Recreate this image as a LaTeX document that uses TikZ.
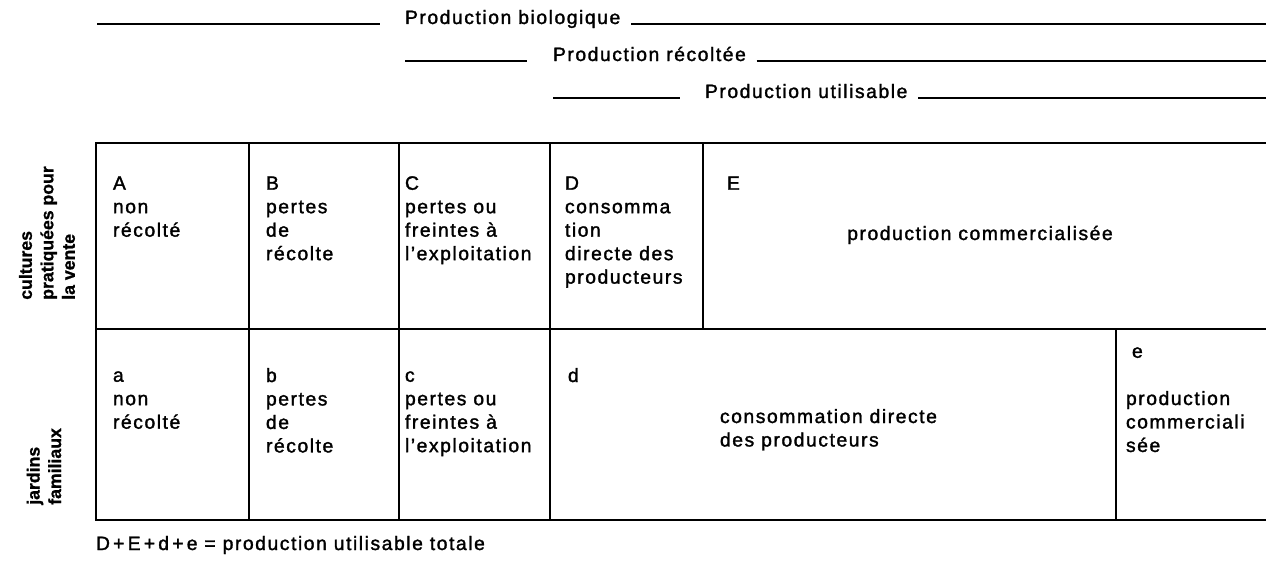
\documentclass[tikz,border=0pt]{standalone}
\usepackage{fontspec}
\setmainfont{Liberation Sans}[LetterSpace=8,FakeBold=1.6]
\newfontfamily\sidefont{Liberation Sans}[FakeBold=1.0]
\newcommand{\capstrut}{\rule{0pt}{10.3pt}}
\begin{document}
\begin{tikzpicture}[x=0.75pt,y=-0.75pt,
  tbl/.style={line width=1.8pt, line join=miter},
  hdr/.style={line width=1.5pt},
  txt/.style={font=\fontsize{14.5}{17.6}\selectfont, inner sep=0pt, outer sep=0pt},
  cell/.style={txt, anchor=north west, align=left},
  side/.style={font=\sidefont\bfseries\fontsize{13.25}{16.1}\selectfont, inner sep=0pt, align=left, rotate=90, anchor=west}]
\useasboundingbox (0,0) rectangle (1266,560);

% header lines
\coordinate (h1a) at (97,24);  \coordinate (h1b) at (380,24);  \coordinate (h1c) at (1266,24);
\coordinate (h2a) at (405,61); \coordinate (h2b) at (527,61);  \coordinate (h2c) at (1266,61);
\coordinate (h3a) at (553,98); \coordinate (h3b) at (680,98);  \coordinate (h3c) at (1266,98);
\node[txt, anchor=base west] (pb) at (405,24) {Production biologique};
\node[txt, anchor=base west] (pr) at (553,61) {Production récoltée};
\node[txt, anchor=base west] (pu) at (705,98) {Production utilisable};
\draw[hdr] (h1a) -- (h1b);
\draw[hdr] ([xshift=8pt]pb.base east) -- (h1c);
\draw[hdr] (h2a) -- (h2b);
\draw[hdr] ([xshift=8pt]pr.base east) -- (h2c);
\draw[hdr] (h3a) -- (h3b);
\draw[hdr] ([xshift=8pt]pu.base east) -- (h3c);

% table
\coordinate (tl) at (96,143);  \coordinate (tr) at (1266,143);
\coordinate (ml) at (96,329);  \coordinate (mr) at (1266,329);
\coordinate (bl) at (96,520);  \coordinate (br) at (1266,520);
\draw[tbl] (tr) -- (tl) -- (bl) -- (br);
\draw[tbl] (ml) -- (mr);
\draw[tbl] (249,143) -- (249,520);
\draw[tbl] (399,143) -- (399,520);
\draw[tbl] (550,143) -- (550,520);
\draw[tbl] (703,143) -- (703,329);
\draw[tbl] (1116,329) -- (1116,520);

% side labels
\node[side] (cult) at (47,300) {cultures\\pratiquées pour\\la vente};
\node[side] (jard) at (44,505) {jardins\\familiaux};

% top row
\node[cell] (A) at (113,176) {\capstrut A\\non\\récolté};
\node[cell] (B) at (266,176) {\capstrut B\\pertes\\de\\récolte};
\node[cell] (C) at (405,176) {\capstrut C\\pertes ou\\freintes à\\l'exploitation};
\node[cell] (D) at (565,176) {\capstrut D\\consomma\\tion\\directe des\\producteurs};
\node[cell] (E) at (727,176) {\capstrut E};
\node[txt, anchor=base] (Et) at (980,240) {production commercialisée};

% bottom row
\node[cell] (a) at (113,368) {\capstrut a\\non\\récolté};
\node[cell] (b) at (266,368) {\capstrut b\\pertes\\de\\récolte};
\node[cell] (c) at (405,368) {\capstrut c\\pertes ou\\freintes à\\l'exploitation};
\node[cell] (d) at (568,368) {\capstrut d};
\node[cell] (dt) at (720,409) {\capstrut consommation directe\\des producteurs};
\node[cell] (e) at (1132,344) {\capstrut e};
\node[cell] (et) at (1126,391) {\capstrut production\\commerciali\\sée};

% total
\node[txt, anchor=base west] (tot) at (96,550) {D\,+\,E\,+\,d\,+\,e = production utilisable totale};
\end{tikzpicture}
\end{document}
